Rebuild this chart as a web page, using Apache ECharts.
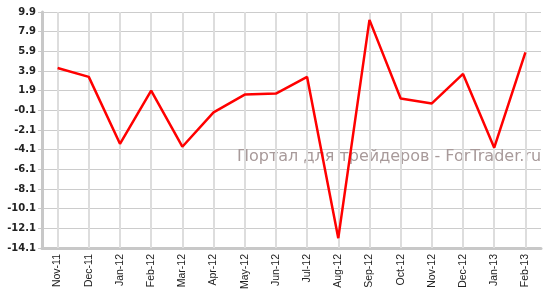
<!DOCTYPE html>
<html><head><meta charset="utf-8">
<script src="https://cdn.jsdelivr.net/npm/echarts@6/dist/echarts.min.js"></script>
<style>html,body{margin:0;padding:0;background:#fff}#c{width:553px;height:294px}</style>
</head><body><div id="c"></div>
<script>
var categories = ['Nov-11','Dec-11','Jan-12','Feb-12','Mar-12','Apr-12','May-12','Jun-12','Jul-12','Aug-12','Sep-12','Oct-12','Nov-12','Dec-12','Jan-13','Feb-13'];
var values = [4.2, 3.3, -3.5, 1.9, -3.8, -0.3, 1.5, 1.6, 3.3, -13.1, 9.1, 1.1, 0.6, 3.6, -3.9, 5.8];
var yMin = -14.1, yMax = 9.9, yStep = 2;
var watermark = 'Портал для трейдеров - ForTrader.ru';

var chart = echarts.init(document.getElementById('c'));
chart.setOption({
  animation: false,
  grid: {left: 42, right: 12, top: 12, bottom: 46},
  graphic: [{
    type: 'text', left: 237, top: 149, z: 1,
    style: {text: watermark, fill: '#a89a9a', font: '16px "DejaVu Sans"'}
  }],
  xAxis: {
    type: 'category', data: categories, boundaryGap: true,
    axisLine: {onZero: false, lineStyle: {color: '#c8c8c8', width: 3}},
    axisTick: {alignWithLabel: true, length: 5, lineStyle: {color: '#c8c8c8', width: 1}},
    axisLabel: {rotate: 90, fontSize: 10.5, color: '#222', fontFamily: 'Liberation Sans', margin: 6},
    splitLine: {show: false}
  },
  yAxis: {
    type: 'value', min: yMin, max: yMax, interval: yStep,
    axisLine: {show: true, onZero: false, lineStyle: {color: '#c8c8c8', width: 3}},
    axisTick: {show: true, length: 4, lineStyle: {color: '#c8c8c8'}},
    axisLabel: {fontSize: 10, color: '#222', fontFamily: 'DejaVu Sans', fontWeight: 'bold', margin: 6,
      formatter: function(v){ return (Math.round(v*10)/10).toFixed(1); }},
    splitLine: {lineStyle: {color: '#cccccc', width: 1}}
  },
  series: [{
    type: 'line', data: [], z: 0, silent: true,
    markLine: {
      silent: true, symbol: 'none', label: {show: false},
      lineStyle: {color: '#dddddd', width: 2, type: 'solid'},
      data: categories.map(function(c){ return {xAxis: c}; })
    }
  }, {
    type: 'line', data: values, z: 5, showSymbol: false, symbol: 'none',
    lineStyle: {color: '#ff0000', width: 2.5}
  }]
});
</script></body></html>
